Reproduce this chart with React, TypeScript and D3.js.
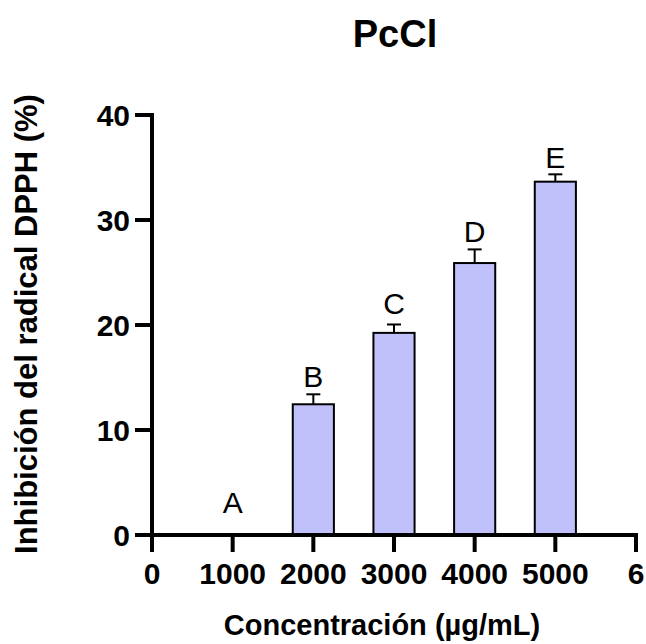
import React from "react";
import * as d3 from "d3";

const concentrations = [1000, 2000, 3000, 4000, 5000];
const means = [0, 12.45, 19.25, 25.9, 33.65];
const errors = [0, 0.95, 0.8, 1.3, 0.7];
const groupLetters = ["A", "B", "C", "D", "E"];
const letterY = [2.05, 14.1, 21.05, 27.9, 35.0];
const yTicks = [0, 10, 20, 30, 40];
const xTicks = [0, 1000, 2000, 3000, 4000, 5000, 6000];
const xTickLabels = ["0", "1000", "2000", "3000", "4000", "5000", "6"];
const title = "PcCl";
const xLabel = "Concentración (µg/mL)";
const yLabel = "Inhibición del radical DPPH (%)";

const W = 646;
const H = 644;
const FONT = "'Liberation Sans', Arial, Helvetica, sans-serif";

export default function App() {
  const x = d3.scaleLinear().domain([0, 6000]).range([152, 636]);
  const y = d3.scaleLinear().domain([0, 40]).range([535, 115]);
  const barW = x(510) - x(0);
  const capW = 14;
  const axisW = 4;
  const tickLen = 17;

  return (
    <svg
      width={W}
      height={H}
      style={{ position: "absolute", left: 0, top: 0, background: "#fff" }}
    >
      <text
        x={395}
        y={47}
        textAnchor="middle"
        fontFamily={FONT}
        fontWeight="bold"
        fontSize={38}
      >
        {title}
      </text>

      {concentrations.map((c, i) => (
        <g key={c}>
          {means[i] > 0 && (
            <>
              <line
                x1={x(c)}
                x2={x(c)}
                y1={y(means[i])}
                y2={y(means[i] + errors[i])}
                stroke="#000"
                strokeWidth={2}
              />
              <line
                x1={x(c) - capW / 2}
                x2={x(c) + capW / 2}
                y1={y(means[i] + errors[i])}
                y2={y(means[i] + errors[i])}
                stroke="#000"
                strokeWidth={2}
              />
              <rect
                x={x(c) - barW / 2}
                y={y(means[i])}
                width={barW}
                height={y(0) - y(means[i])}
                fill="#C0C0FA"
                stroke="#000"
                strokeWidth={2}
              />
            </>
          )}
          <text
            x={x(c)}
            y={y(letterY[i])}
            textAnchor="middle"
            fontFamily={FONT}
            fontSize={30}
          >
            {groupLetters[i]}
          </text>
        </g>
      ))}

      <line
        x1={x(0)}
        x2={x(0)}
        y1={y(40) - axisW / 2}
        y2={y(0) + tickLen}
        stroke="#000"
        strokeWidth={axisW}
      />
      {yTicks.map((t) => (
        <g key={t}>
          <line
            x1={x(0) - tickLen}
            x2={x(0)}
            y1={y(t)}
            y2={y(t)}
            stroke="#000"
            strokeWidth={axisW}
          />
          <text
            x={x(0) - 22}
            y={y(t)}
            dy="0.36em"
            textAnchor="end"
            fontFamily={FONT}
            fontWeight="bold"
            fontSize={30}
          >
            {t}
          </text>
        </g>
      ))}

      <line
        x1={x(0) - tickLen}
        x2={x(6000) + axisW / 2}
        y1={y(0)}
        y2={y(0)}
        stroke="#000"
        strokeWidth={axisW}
      />
      {xTicks.map((t, i) => (
        <g key={t}>
          <line
            x1={x(t)}
            x2={x(t)}
            y1={y(0)}
            y2={y(0) + tickLen}
            stroke="#000"
            strokeWidth={axisW}
          />
          <text
            x={x(t)}
            y={584}
            textAnchor="middle"
            fontFamily={FONT}
            fontWeight="bold"
            fontSize={30}
          >
            {xTickLabels[i]}
          </text>
        </g>
      ))}

      <text
        x={382}
        y={635}
        textAnchor="middle"
        fontFamily={FONT}
        fontWeight="bold"
        fontSize={29}
      >
        {xLabel}
      </text>

      <text
        transform={`translate(37,324) rotate(-90)`}
        textAnchor="middle"
        fontFamily={FONT}
        fontWeight="bold"
        fontSize={31}
      >
        {yLabel}
      </text>
    </svg>
  );
}
